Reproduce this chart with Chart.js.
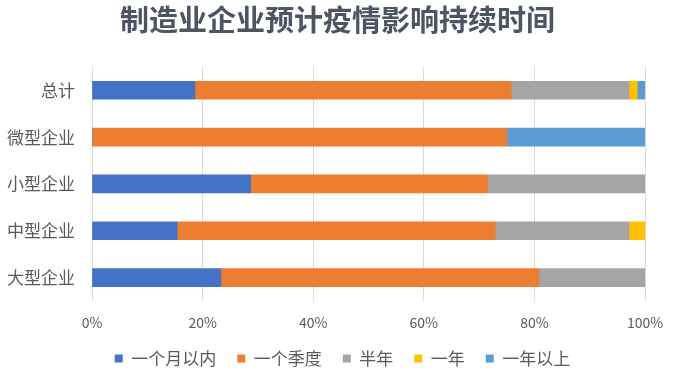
<!DOCTYPE html>
<html>
<head>
<meta charset="utf-8">
<script src="https://cdn.jsdelivr.net/npm/chart.js@4/dist/chart.umd.min.js"></script>
<style>
  html, body { margin: 0; padding: 0; background: #fff; }
  #wrap { width: 677px; height: 389px; }
</style>
</head>
<body>
<div id="wrap"><canvas id="chart" width="677" height="389"></canvas></div>
<script>
const categories = ['总计', '微型企业', '小型企业', '中型企业', '大型企业'];
const seriesNames = ['一个月以内', '一个季度', '半年', '一年', '一年以上'];
const withinMonth = [18.6, 0, 28.7, 15.4, 23.3];
const oneQuarter = [57.2, 75.0, 42.9, 57.5, 57.5];
const halfYear = [21.3, 0, 28.4, 24.2, 19.2];
const oneYear = [1.5, 0, 0, 2.9, 0];
const overYear = [1.4, 25.0, 0, 0, 0];
const colors = ['#4472C4', '#ED7D31', '#A5A5A5', '#FFC000', '#5B9BD5'];

const font = '"Noto Sans CJK SC", "Noto Sans", sans-serif';
const values = [withinMonth, oneQuarter, halfYear, oneYear, overYear];

// title and legend sit a bit right of the plot centre in the original
const nudge = {
  id: 'nudge',
  afterLayout(chart) {
    chart.titleBlock.left += 15;
    chart.titleBlock.right += 15;
    chart.legend.left += 20;
    chart.legend.right += 20;
  },
};

const ctx = document.getElementById('chart').getContext('2d');
new Chart(ctx, {
  type: 'bar',
  data: {
    labels: categories,
    datasets: seriesNames.map((name, i) => ({
      label: name,
      data: values[i],
      backgroundColor: colors[i],
      borderWidth: 0,
      barThickness: 18,
    })),
  },
  options: {
    indexAxis: 'y',
    responsive: false,
    animation: false,
    layout: { padding: { left: 0, right: 32, top: 0, bottom: 12 } },
    scales: {
      x: {
        stacked: true,
        min: 0,
        max: 100,
        ticks: {
          stepSize: 20,
          callback: (v) => v + '%',
          color: '#595959',
          font: { family: font, size: 14 },
          padding: 13,
        },
        grid: { color: '#D9D9D9', drawTicks: false },
        border: { display: false },
        afterFit: (scale) => { scale.height = 28; },
      },
      y: {
        stacked: true,
        ticks: {
          color: '#595959',
          font: { family: font, size: 17 },
          padding: 17,
        },
        grid: { display: false, drawTicks: false },
        border: { display: false },
        afterFit: (scale) => { scale.width = 92; },
      },
    },
    plugins: {
      title: {
        display: true,
        text: '制造业企业预计疫情影响持续时间',
        color: '#4d5563',
        font: { family: font, size: 29, weight: 'bold' },
        padding: { top: 3, bottom: 29 },
      },
      legend: {
        position: 'bottom',
        labels: {
          boxWidth: 8,
          boxHeight: 8,
          padding: 21,
          color: '#595959',
          font: { family: font, size: 17 },
        },
      },
      tooltip: { enabled: false },
    },
  },
  plugins: [nudge],
});
</script>
</body>
</html>
